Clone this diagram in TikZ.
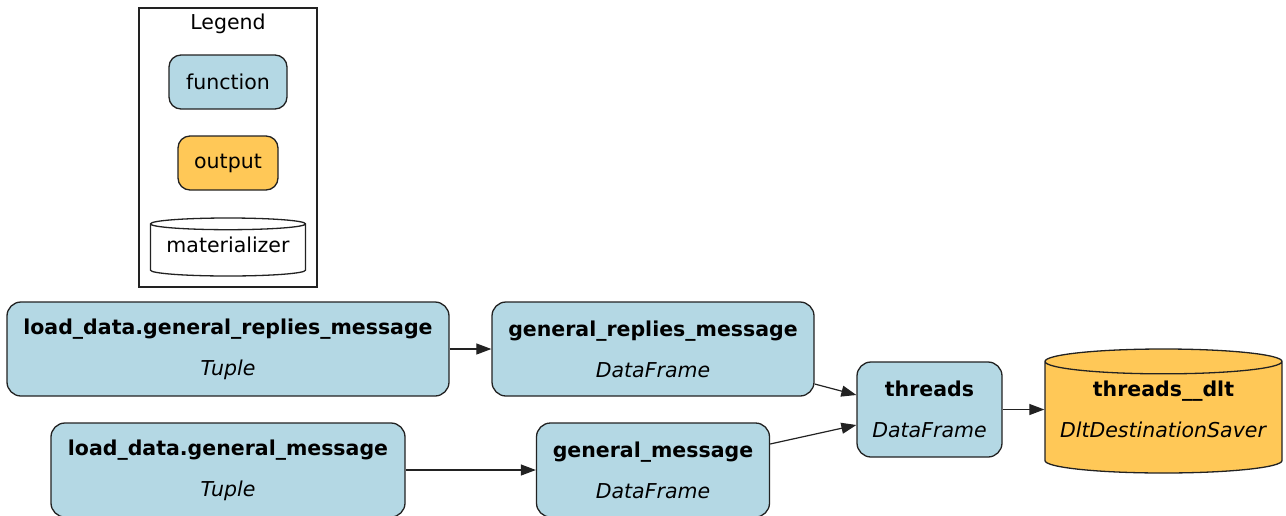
\documentclass[tikz,border=0pt]{standalone}
\usepackage{fontspec}
\setmainfont{DejaVu Sans}
\usetikzlibrary{shapes.geometric, arrows.meta}
\definecolor{hamBlue}{HTML}{B4D8E4}
\definecolor{hamYellow}{HTML}{FFC857}
\definecolor{hamLine}{HTML}{222222}

\begin{document}
\begin{tikzpicture}[
    x=1pt, y=-1pt,
    font=\fontsize{20.5}{41}\selectfont,
    func/.style={
        draw=hamLine, line width=1.3pt, rounded corners=14pt,
        fill=hamBlue, minimum height=94pt, align=center, inner sep=0pt
    },
    saver/.style={
        cylinder, shape border rotate=90, shape aspect=0.12,
        draw=hamLine, line width=1.3pt, fill=hamYellow,
        align=center, inner sep=0pt, anchor=shape center
    },
    keybox/.style={
        draw=hamLine, line width=1.3pt, rounded corners=12pt,
        minimum height=54pt, inner sep=0pt
    },
    flow/.style={-{Triangle[length=15pt,width=11pt]}, line width=1.2pt, draw=hamLine},
]
\useasboundingbox (0,0) rectangle (1286,515);

% Legend
\node[draw=hamLine, line width=1.2pt, minimum width=178pt, minimum height=279pt, inner sep=0pt] (legend) at (228,147.5) {};
\node (legendtitle) at (228,24) {Legend};
\node[keybox, fill=hamBlue, minimum width=118pt] (keyfunc) at (228,82) {function};
\node[keybox, fill=hamYellow, minimum width=100pt] (keyout) at (228,163) {output};
\node[saver, fill=white, shape aspect=0.095, text depth=12pt, minimum width=155pt, minimum height=58pt] (keymat) at (228,247) {materializer};

% Inputs
\node[func, minimum width=442pt] (lgrm) at (228,349) {\textbf{load\_data.general\_replies\_message}\\\textit{Tuple}};
\node[func, minimum width=354pt] (lgm) at (228,470) {\textbf{load\_data.general\_message}\\\textit{Tuple}};

% Frames
\node[func, minimum width=322pt] (grm) at (653,349) {\textbf{general\_replies\_message}\\\textit{DataFrame}};
\node[func, minimum width=233pt] (gm) at (653,470) {\textbf{general\_message}\\\textit{DataFrame}};
\node[func, minimum width=145pt, minimum height=95pt] (threads) at (929.5,409.5) {\textbf{threads}\\\textit{DataFrame}};

% Output
\node[saver, text height=50pt, text depth=11pt, minimum width=237pt, minimum height=124pt] (dlt) at (1163.5,411) {\textbf{threads\_\_dlt}\\\textit{DltDestinationSaver}};

% Edges
\draw[flow] (lgrm.east) -- (grm.west);
\draw[flow] (lgm.east) -- (gm.west);
\draw[flow] ([yshift=-35pt]grm.east) -- ([yshift=14.5pt]threads.west);
\draw[flow] ([yshift=26pt]gm.east) -- ([yshift=-15.5pt]threads.west);
\draw[flow] (threads.east) -- (threads.east -| dlt.west);

\end{tikzpicture}
\end{document}
